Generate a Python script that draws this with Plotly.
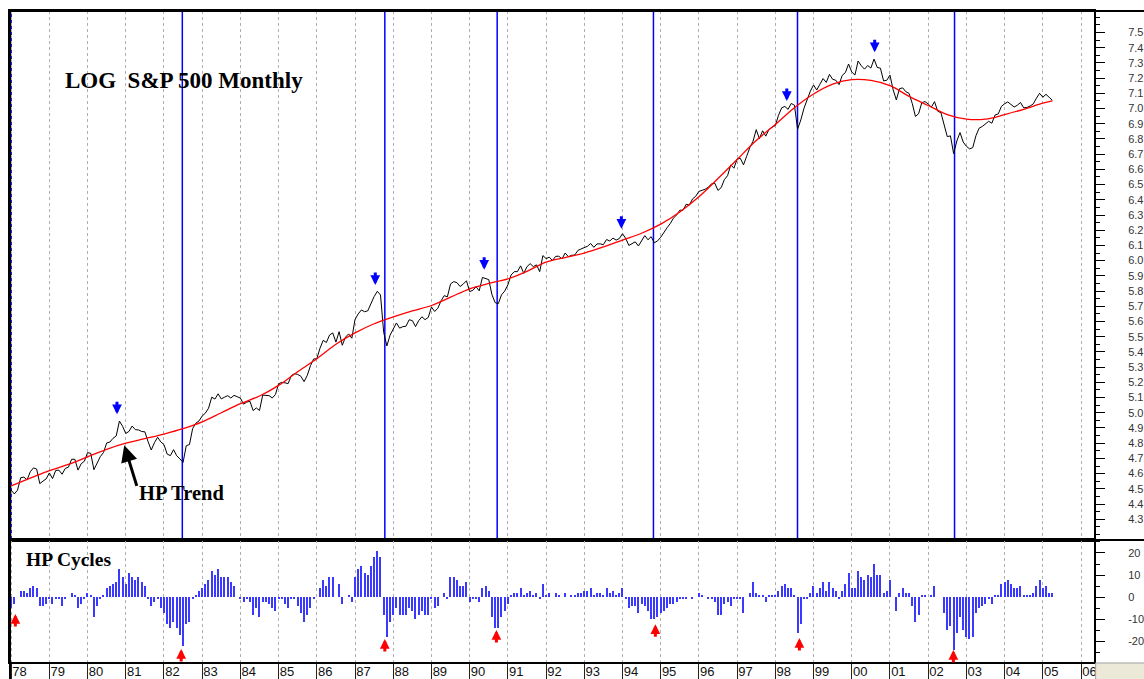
import numpy as np
import plotly.graph_objects as go
from plotly.subplots import make_subplots

# ---------------- data ----------------
start_year = 1978
# monthly S&P 500 closes, Jan 1978 .. Apr 2005 (plotted on a log scale)
sp500_close = [
    89.25, 87.04, 89.21, 96.83, 97.24, 95.53, 100.68, 103.29, 102.54, 93.15, 94.70, 96.11,          # 1978
    99.93, 96.28, 101.59, 101.76, 99.08, 102.91, 103.81, 109.32, 109.32, 101.82, 106.16, 107.94,    # 1979
    114.16, 113.66, 102.09, 106.29, 111.24, 114.24, 121.67, 122.38, 125.46, 127.47, 140.52, 135.76, # 1980
    129.55, 131.27, 136.00, 132.81, 132.59, 131.21, 130.92, 122.79, 116.18, 121.89, 126.35, 122.55, # 1981
    120.40, 113.11, 111.96, 116.44, 111.88, 109.61, 107.09, 119.51, 120.42, 133.71, 138.54, 140.64, # 1982
    145.30, 148.06, 152.96, 164.42, 162.39, 168.11, 162.56, 164.40, 166.07, 163.55, 166.40, 164.93, # 1983
    163.41, 157.06, 159.18, 160.05, 150.55, 153.18, 150.66, 166.68, 166.10, 166.09, 163.58, 167.24, # 1984
    179.63, 181.18, 180.66, 179.83, 189.55, 191.85, 190.92, 188.63, 182.08, 189.82, 202.17, 211.28, # 1985
    211.78, 226.92, 238.90, 235.52, 247.35, 250.84, 236.12, 252.93, 231.32, 243.98, 249.22, 242.17, # 1986
    274.08, 284.20, 291.70, 288.36, 290.10, 304.00, 318.66, 329.80, 321.83, 251.79, 230.30, 247.08, # 1987
    257.07, 267.82, 258.89, 261.33, 262.16, 273.50, 272.02, 261.52, 271.91, 278.97, 273.70, 277.72, # 1988
    297.47, 288.86, 294.87, 309.64, 320.52, 317.98, 346.08, 351.45, 349.15, 340.36, 345.99, 353.40, # 1989
    329.08, 331.89, 339.94, 330.80, 361.23, 358.02, 356.15, 322.56, 306.05, 304.00, 322.22, 330.22, # 1990
    343.93, 367.07, 375.22, 375.35, 389.83, 371.16, 387.81, 395.43, 387.86, 392.46, 375.22, 417.09, # 1991
    408.79, 412.70, 403.69, 414.95, 415.35, 408.14, 424.21, 414.03, 417.80, 418.68, 431.35, 435.71, # 1992
    438.78, 443.38, 451.67, 440.19, 450.19, 450.53, 448.13, 463.56, 458.93, 467.83, 461.79, 466.45, # 1993
    481.61, 467.14, 445.77, 450.91, 456.50, 444.27, 458.26, 475.49, 462.69, 472.35, 453.69, 459.27, # 1994
    470.42, 487.39, 500.71, 514.71, 533.40, 544.75, 562.06, 561.88, 584.41, 581.50, 605.37, 615.93, # 1995
    636.02, 640.43, 645.50, 654.17, 669.12, 670.63, 639.95, 651.99, 687.31, 705.27, 757.02, 740.74, # 1996
    786.16, 790.82, 757.12, 801.34, 848.28, 885.14, 954.29, 899.47, 947.28, 914.62, 955.40, 970.43, # 1997
    980.28, 1049.34, 1101.75, 1111.75, 1090.82, 1133.84, 1120.67, 957.28, 1017.01, 1098.67, 1163.63, 1229.23,  # 1998
    1279.64, 1238.33, 1286.37, 1335.18, 1301.84, 1372.71, 1328.72, 1320.41, 1282.71, 1362.93, 1388.91, 1469.25, # 1999
    1394.46, 1366.42, 1498.58, 1452.43, 1420.60, 1454.60, 1430.83, 1517.68, 1436.51, 1429.40, 1314.95, 1320.28, # 2000
    1366.01, 1239.94, 1160.33, 1249.46, 1255.82, 1224.42, 1211.23, 1133.58, 1040.94, 1059.78, 1139.45, 1148.08, # 2001
    1130.20, 1106.73, 1147.39, 1076.92, 1067.14, 989.82, 911.62, 916.07, 815.28, 885.76, 936.31, 879.82,        # 2002
    855.70, 841.15, 848.18, 916.92, 963.59, 974.50, 990.31, 1008.01, 995.97, 1050.71, 1058.20, 1111.92,         # 2003
    1131.13, 1144.94, 1126.21, 1107.30, 1120.68, 1140.84, 1101.72, 1104.24, 1114.58, 1130.20, 1173.82, 1211.92, # 2004
    1181.27, 1203.60, 1180.59, 1156.85,                                                                          # 2005
]

# HP cycle component, same months
hp_cycle = [
    -5, -3, 0, 3, 3, 2, 4, 5, 4, -4, -4, -3,          # 1978
    -1, -3, -1, -1, -4, -1, 0, 2, 1, -5, -3, -1,      # 1979
    2, 1, -9, -4, -1, 1, 4, 5, 6, 7, 13, 9,           # 1980
    6, 11, 9, 8, 9, 7, 5, -1, -4, -2, -1, -5,         # 1981
    -7, -12, -14, -11, -14, -17, -22, -12, -11, -1, 1, 3,  # 1982
    4, 6, 8, 12, 10, 13, 9, 9, 9, 7, 5, 0,            # 1983
    -1, -2, -1, -2, -8, -5, -9, -2, -2, -3, -5, -6,   # 1984
    -1, -1, -3, -5, -1, -1, -4, -7, -11, -8, -5, -1,  # 1985
    0, 4, 8, 5, 9, 9, 0, 6, -3, 0, 1, -2,             # 1986
    9, 13, 14, 11, 10, 14, 18, 21, 18, -8, -18, -11,  # 1987
    -8, -5, -8, -8, -8, -5, -6, -10, -8, -6, -8, -8,  # 1988
    -1, -5, -4, 0, 2, -1, 9, 9, 8, 5, 5, 7,           # 1989
    -2, -1, -1, -2, 4, 5, 3, -9, -14, -14, -9, -6,    # 1990
    -3, 1, 2, 2, 4, 1, 2, 3, 1, 2, -1, 6,             # 1991
    1, 2, 0, 2, 1, 0, 2, 0, 1, 1, 2, 2,               # 1992
    3, 3, 4, 1, 2, 2, 1, 4, 2, 3, 1, 2,               # 1993
    4, -1, -5, -4, -4, -7, -3, -4, -6, -10, -10, -9,  # 1994
    -7, -6, -5, -3, -3, -2, -1, -1, -1, 0, -1, 0,     # 1995
    2, 1, 0, -1, -1, -2, -8, -8, -3, -2, -4, -1,      # 1996
    -1, -1, -7, 0, 2, 7, 2, 1, 1, -2, 1, 1,           # 1997
    1, 3, 5, 6, 4, 4, 1, -16, -12, -1, -1, 2,         # 1998
    5, 2, 4, 7, 3, 7, 4, 3, -1, 3, 6, 11,             # 1999
    4, 4, 12, 9, 8, 10, 9, 15, 10, 10, 2, 3,          # 2000
    8, 0, -6, 2, 4, 2, 2, -4, -11, -8, 1, 1,          # 2001
    0, 1, 5, 0, 0, -7, -15, -13, -24, -16, -9, -15,   # 2002
    -18, -19, -18, -7, -5, -4, -3, -1, -3, 1, 1, 6,   # 2003
    7, 8, 6, 4, 4, 5, 1, 1, 1, 2, 5, 8,               # 2004
    4, 5, 2, 2,                                       # 2005
]

# HP trend (red line), read every half year
trend_year = [1978.0, 1978.5, 1979.0, 1979.5, 1980.0, 1980.5, 1981.0, 1981.5, 1982.0, 1982.5,
              1983.0, 1983.5, 1984.0, 1984.5, 1985.0, 1985.5, 1986.0, 1986.5, 1987.0, 1987.5,
              1988.0, 1988.5, 1989.0, 1989.5, 1990.0, 1990.5, 1991.0, 1991.5, 1992.0, 1992.5,
              1993.0, 1993.5, 1994.0, 1994.5, 1995.0, 1995.5, 1996.0, 1996.5, 1997.0, 1997.5,
              1998.0, 1998.5, 1999.0, 1999.5, 2000.0, 2000.5, 2001.0, 2001.5, 2002.0, 2002.5,
              2003.0, 2003.5, 2004.0, 2004.5, 2005.0, 2005.25]
trend_log = [4.52, 4.57, 4.62, 4.66, 4.71, 4.76, 4.80, 4.83, 4.86, 4.895,
             4.94, 5.00, 5.06, 5.11, 5.18, 5.27, 5.355, 5.45, 5.525, 5.585,
             5.63, 5.67, 5.705, 5.76, 5.815, 5.85, 5.88, 5.93, 5.99, 6.02,
             6.05, 6.09, 6.135, 6.18, 6.24, 6.32, 6.42, 6.54, 6.665, 6.79,
             6.895, 7.005, 7.095, 7.16, 7.19, 7.185, 7.15, 7.08, 7.02, 6.96,
             6.93, 6.93, 6.96, 6.995, 7.035, 7.05]

# cycle lows (blue vertical lines)
cycle_low_year = [1978.0, 1982.48, 1987.78, 1990.72, 1994.81, 1998.58, 2002.69]
# peaks (blue down arrows): year and arrow-tip level
peak_year = [1980.77, 1987.53, 1990.38, 1993.97, 1998.30, 2000.60]
peak_tip = [4.99, 5.84, 5.94, 6.21, 7.05, 7.37]
# troughs in the cycle panel (red up arrows)
trough_year = [1978.11, 1982.45, 1987.78, 1990.70, 1994.86, 1998.63, 2002.66]
trough_tip = [-7.6, -23.4, -18.9, -14.8, -12.2, -18.5, -23.9]

year_ticks = list(range(1978, 2007))
year_labels = ['78', '79', '80', '81', '82', '83', '84', '85', '86', '87', '88', '89',
               '90', '91', '92', '93', '94', '95', '96', '97', '98', '99', '00', '01',
               '02', '03', '04', '05', '06']
price_ticks = [4.3, 4.4, 4.5, 4.6, 4.7, 4.8, 4.9, 5.0, 5.1, 5.2, 5.3, 5.4, 5.5, 5.6, 5.7,
               5.8, 5.9, 6.0, 6.1, 6.2, 6.3, 6.4, 6.5, 6.6, 6.7, 6.8, 6.9, 7.0, 7.1, 7.2, 7.3,
               7.4, 7.5]
price_labels = ['4.3', '4.4', '4.5', '4.6', '4.7', '4.8', '4.9', '5.0', '5.1', '5.2', '5.3',
                '5.4', '5.5', '5.6', '5.7', '5.8', '5.9', '6.0', '6.1', '6.2', '6.3', '6.4',
                '6.5', '6.6', '6.7', '6.8', '6.9', '7.0', '7.1', '7.2', '7.3', '7.4', '7.5']
cycle_ticks = [-20, -10, 0, 10, 20]
cycle_labels = ['-20', '-10', '0', '10', '20']

# ---------------- figure ----------------
month_x = start_year + np.arange(len(sp500_close)) / 12.0
log_price = np.log(np.array(sp500_close))
x_range = [1977.97, 2006.34]
price_range = [4.164, 7.641]
cycle_range = [-29.3, 25.9]

fig = make_subplots(rows=2, cols=1, shared_xaxes=True, vertical_spacing=0)

fig.add_trace(go.Scatter(x=month_x, y=log_price, mode='lines',
                         line=dict(color='#000000', width=1), hoverinfo='skip'), row=1, col=1)
fig.add_trace(go.Scatter(x=trend_year, y=trend_log, mode='lines',
                         line=dict(color='#ff0000', width=1.3, shape='spline', smoothing=1.0),
                         hoverinfo='skip'), row=1, col=1)
fig.add_trace(go.Bar(x=month_x, y=hp_cycle, width=0.03,
                     marker=dict(color='#3a3aff', line=dict(width=0)), hoverinfo='skip'),
              row=2, col=1)
# empty traces that carry the label-only overlay axes
fig.add_trace(go.Scatter(x=[None], y=[None], xaxis='x3', yaxis='y2', hoverinfo='skip'))
fig.add_trace(go.Scatter(x=[None], y=[None], xaxis='x', yaxis='y3', hoverinfo='skip'))
fig.add_trace(go.Scatter(x=[None], y=[None], xaxis='x2', yaxis='y4', hoverinfo='skip'))

for yr in cycle_low_year:
    fig.add_shape(type='line', xref='x', yref='y domain', x0=yr, x1=yr, y0=0, y1=1,
                  line=dict(color='#0000ff', width=1.5), layer='below')

annotations = []
for yr, tip in zip(peak_year, peak_tip):
    annotations.append(dict(x=yr, y=tip, xref='x', yref='y', text='', showarrow=True,
                            arrowhead=2, arrowsize=0.65, arrowwidth=3, arrowcolor='#0000ff',
                            ax=0, ay=-14))
for yr, tip in zip(trough_year, trough_tip):
    annotations.append(dict(x=yr, y=tip, xref='x2', yref='y2', text='', showarrow=True,
                            arrowhead=2, arrowsize=0.65, arrowwidth=3, arrowcolor='#ff0000',
                            ax=0, ay=14))

serif = 'Liberation Serif, Times New Roman, serif'
annotations += [
    dict(x=0.0489, y=0.894, xref='paper', yref='paper', xanchor='left', yanchor='middle',
         text='LOG\u00a0 S&amp;P 500 Monthly', showarrow=False,
         font=dict(family=serif, size=23, color='#000000', weight='bold')),
    dict(x=0.0129, y=0.1567, xref='paper', yref='paper', xanchor='left', yanchor='middle',
         text='HP Cycles', showarrow=False,
         font=dict(family=serif, size=19.5, color='#000000', weight='bold')),
    dict(x=1981.3, y=4.472, xref='x', yref='y', xanchor='left', yanchor='middle',
         text='HP Trend', showarrow=False,
         font=dict(family=serif, size=20.5, color='#000000', weight='bold')),
    dict(x=1980.96, y=4.786, xref='x', yref='y', text='', showarrow=True,
         arrowhead=2, arrowsize=1.1, arrowwidth=3, arrowcolor='#000000', ax=13, ay=42),
]

grid = dict(showgrid=True, gridcolor='#b0b0b0', gridwidth=1, griddash='3px,3px',
            tickvals=year_ticks, zeroline=False, range=x_range, automargin=False,
            showline=True, linecolor='#000000', linewidth=2, mirror=True)
sans = 'Liberation Sans, Arial, sans-serif'
fig.update_layout(
    width=1144, height=679,
    margin=dict(l=10, r=50, t=11, b=17, autoexpand=False),
    paper_bgcolor='#ffffff', plot_bgcolor='#ffffff',
    showlegend=False, bargap=0,
    annotations=annotations,
    xaxis=dict(domain=[0, 1], showticklabels=False, ticks='', **grid),
    xaxis2=dict(domain=[0, 1], showticklabels=False, ticks='outside', ticklen=17,
                tickcolor='#222222', tickwidth=1, **grid),
    xaxis3=dict(overlaying='x2', anchor='y2', side='bottom', range=x_range, automargin=False,
                tickvals=[y + 0.22 for y in year_ticks], ticktext=year_labels, ticks='',
                showgrid=False, showline=False, zeroline=False,
                tickfont=dict(family=sans, size=13, color='#111111')),
    yaxis=dict(domain=[0.1875, 1], side='right', range=price_range, automargin=False,
               tickvals=price_ticks, showticklabels=False, ticks='outside', ticklen=9,
               tickcolor='#000000', tickwidth=1,
               minor=dict(dtick=0.05, tick0=4.15, ticks='outside', ticklen=4, tickcolor='#000000'),
               showgrid=False, zeroline=False, showline=True, linecolor='#000000',
               linewidth=2, mirror=True),
    yaxis3=dict(overlaying='y', anchor='x', side='right', range=price_range, automargin=False,
                tickvals=price_ticks, ticktext=price_labels, ticks='outside', ticklen=31,
                tickcolor='rgba(0,0,0,0)', showgrid=False, showline=False, zeroline=False,
                tickfont=dict(family=sans, size=11, color='#333333')),
    yaxis2=dict(domain=[0, 0.1875], side='right', range=cycle_range, automargin=False,
                tickvals=cycle_ticks, showticklabels=False, ticks='outside', ticklen=9,
                tickcolor='#000000', tickwidth=1,
                minor=dict(dtick=5, tick0=0, ticks='outside', ticklen=4, tickcolor='#000000'),
                showgrid=False, zeroline=False, showline=True, linecolor='#000000',
                linewidth=2, mirror=True),
    yaxis4=dict(overlaying='y2', anchor='x2', side='right', range=cycle_range, automargin=False,
                tickvals=cycle_ticks, ticktext=cycle_labels, ticks='outside', ticklen=31,
                tickcolor='rgba(0,0,0,0)', showgrid=False, showline=False, zeroline=False,
                tickfont=dict(family=sans, size=11, color='#333333')),
)

# frame pieces outside the plot area
fig.add_shape(type='line', xref='paper', yref='paper', x0=0, x1=1.05, y0=1, y1=1,
              line=dict(color='#000000', width=2), layer='above')
fig.add_shape(type='line', xref='paper', yref='paper', x0=0, x1=1.05, y0=0.1875, y1=0.1875,
              line=dict(color='#000000', width=2), layer='above')
fig.add_shape(type='line', xref='paper', yref='paper', x0=0, x1=0, y0=-0.03, y1=1,
              line=dict(color='#000000', width=2), layer='above')
fig.add_shape(type='rect', xref='paper', yref='paper', x0=1.0015, x1=1.06, y0=-0.03, y1=-0.0015,
              fillcolor='#ece9d8', line=dict(color='#a0a0a0', width=1), layer='above')

fig.write_html('out.html', config={'displayModeBar': False},
               post_script="document.body.style.margin='0';")
